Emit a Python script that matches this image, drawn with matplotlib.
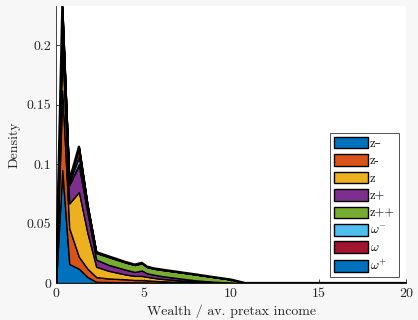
import numpy as np
import matplotlib
matplotlib.use("Agg")
import matplotlib.pyplot as plt

plt.rcParams['font.family'] = ['cmr10', 'DejaVu Serif']
plt.rcParams['mathtext.fontset'] = 'cm'
plt.rcParams['axes.formatter.use_mathtext'] = True

# wealth grid (multiples of average pretax income)
wealth = [0, 0.36, 0.76, 1.31, 1.8, 2.3, 3, 4, 4.5, 4.9, 5.2, 5.6, 6, 7, 8, 9, 10, 10.8, 20]

# density contribution of each group, stacked in this order
z_mm = [0, 0.095, 0.016, 0.012, 0.005, 0.001, 0.0008, 0.0006, 0.0005, 0.0005, 0.0004, 0.0003, 0.0003, 0.0002, 0.0001, 0.0001, 0, 0, 0]
z_m = [0, 0.067, 0.030, 0.010, 0.007, 0.004, 0.003, 0.0025, 0.002, 0.002, 0.0018, 0.0015, 0.0012, 0.0008, 0.0005, 0.0003, 0.0001, 0, 0]
z_0 = [0, 0.035, 0.021, 0.0545, 0.030, 0.0087, 0.0065, 0.004, 0.0035, 0.0035, 0.003, 0.0025, 0.002, 0.0013, 0.0008, 0.0004, 0.0002, 0, 0]
z_p = [0, 0.020, 0.0155, 0.0225, 0.017, 0.006, 0.005, 0.004, 0.0033, 0.0045, 0.003, 0.0027, 0.0024, 0.0017, 0.0008, 0.0003, 0.0001, 0, 0]
z_pp = [0, 0.003, 0.0005, 0.001, 0.003, 0.0055, 0.0065, 0.006, 0.0058, 0.0061, 0.0052, 0.005, 0.0052, 0.0051, 0.0049, 0.0039, 0.0025, 0, 0]
w_m = [0, 0.008, 0.002, 0.006, 0.002, 0.0004, 0.0003, 0.0002, 0.0002, 0.0002, 0.0002, 0.0001, 0.0001, 0.0001, 0.0001, 0, 0, 0, 0]
w_0 = [0, 0.004, 0.0005, 0.008, 0.0015, 0.0002, 0.0002, 0.0002, 0.0001, 0.0001, 0.0001, 0.0001, 0.0001, 0.0001, 0, 0, 0, 0, 0]
w_p = [0, 0.001, 0.0005, 0.0007, 0.0005, 0.0002, 0.0002, 0.0001, 0.0001, 0.0001, 0.0001, 0.0001, 0.0001, 0, 0, 0, 0, 0, 0]

labels = ['z\u2013', 'z-', 'z', 'z+', 'z++', r'$\omega^{-}$', r'$\omega$', r'$\omega^{+}$']
colors = ['#0072BD', '#D95319', '#EDB120', '#7E2F8E', '#77AC30', '#4DBEEE', '#A2142F', '#0072BD']
series = [z_mm, z_m, z_0, z_p, z_pp, w_m, w_0, w_p]

fig = plt.figure(figsize=(4.18, 3.2), dpi=100, facecolor='#f7f7f7')
ax = fig.add_axes([56 / 418, 37 / 320, 350 / 418, 277 / 320])
ax.set_facecolor('white')

x = np.array(wealth)
base = np.zeros_like(x)
for vals, col, lab in zip(series, colors, labels):
    top = base + np.array(vals)
    ax.fill_between(x, base, top, facecolor=col, edgecolor='black',
                    linewidth=1.0, label=lab)
    base = top
ax.plot(x, base, color='black', linewidth=1.6, zorder=5)

ax.set_xlim(0, 20)
ax.set_ylim(0, base.max())
ax.set_xticks([0, 5, 10, 15, 20])
ax.set_xticklabels(['0', '5', '10', '15', '20'])
ax.set_yticks([0, 0.05, 0.1, 0.15, 0.2])
ax.set_yticklabels(['0', '0.05', '0.1', '0.15', '0.2'])
ax.tick_params(direction='in', length=3, width=0.6, colors='#262626',
               labelsize=10, labelcolor='#262626')
for s in ['top', 'right']:
    ax.spines[s].set_visible(False)
for s in ['left', 'bottom']:
    ax.spines[s].set_color('#262626')
    ax.spines[s].set_linewidth(0.6)

ax.set_xlabel('Wealth / av. pretax income', fontsize=10, color='#262626', labelpad=3)
ax.set_ylabel('Density', fontsize=10, color='#262626', labelpad=4)

leg = ax.legend(loc='upper left', bbox_to_anchor=(330 / 418, 1 - 133 / 320),
                bbox_transform=fig.transFigure, fontsize=9, frameon=True,
                fancybox=False, handlelength=2.7, handleheight=1.05,
                labelspacing=0.35, handletextpad=0.2, borderpad=0.3,
                borderaxespad=0)
leg.get_frame().set_edgecolor('#262626')
leg.get_frame().set_linewidth(0.7)
leg.set_zorder(10)

fig.savefig('out.png', dpi=100, facecolor=fig.get_facecolor())
